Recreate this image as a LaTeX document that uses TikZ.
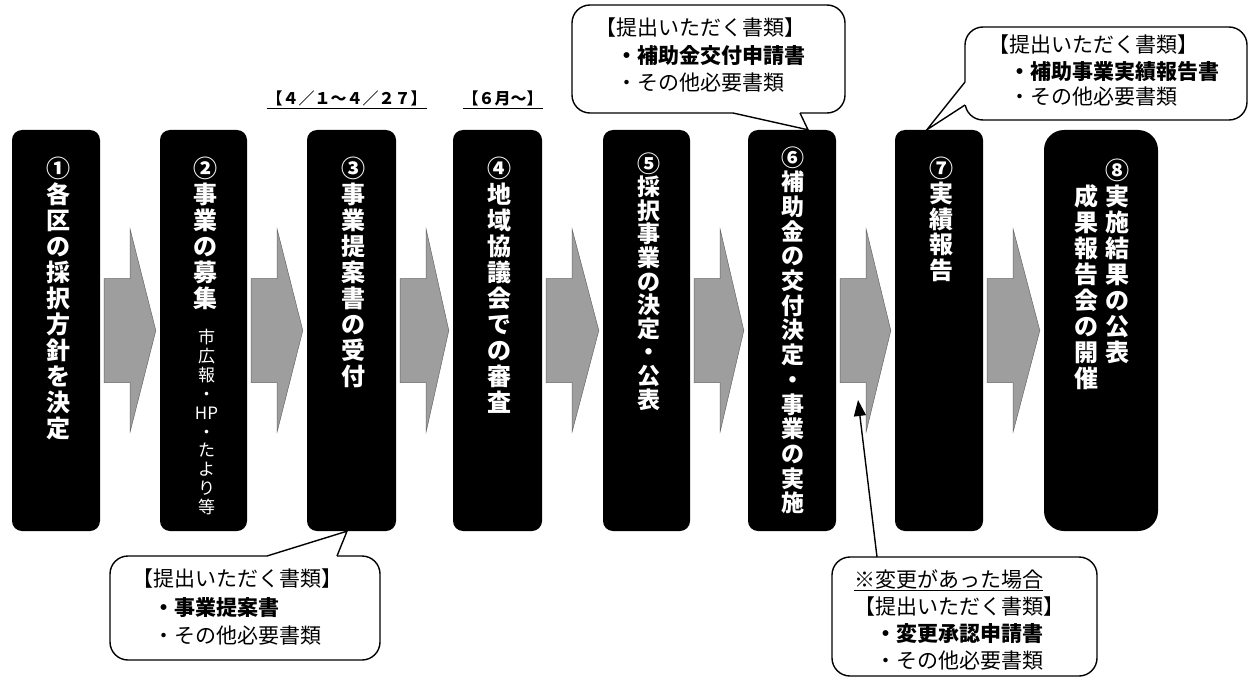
\documentclass[tikz,border=0pt]{standalone}
\usepackage{fontspec}
\setmainfont{Noto Sans CJK JP}
\usetikzlibrary{arrows.meta}
\tikzset{
  stepbox/.style={fill=black, rounded corners=10pt, minimum height=401pt, inner sep=0pt},
  vchar/.style={text=white, inner sep=0pt, anchor=base, font=\fontsize{24pt}{24pt}\selectfont\bfseries},
  vcharb/.style={text=white, inner sep=0pt, anchor=base, font=\fontsize{23pt}{23pt}\selectfont\bfseries},
  vsmall/.style={text=white, inner sep=0pt, anchor=base, font=\fontsize{17pt}{17pt}\selectfont},
  flow/.style={fill=black!38, draw=black!60, line width=0.5pt},
  callout/.style={draw=black, line width=1.4pt, fill=white, rounded corners=18pt},
  wedge/.style={draw=black, line width=1.4pt, line join=miter},
  cline/.style={anchor=base west, inner sep=0pt, font=\fontsize{21pt}{21pt}\selectfont},
  datelabel/.style={font=\fontsize{16pt}{18pt}\selectfont\bfseries, inner sep=0pt, anchor=base},
}
% vertical column of characters: name, x, baseline of first, pitch, style, list
\newcommand{\vcol}[6]{%
  \foreach \ch [count=\i] in {#6} {\node[#5] (#1-\i) at (#2, {#3+(\i-1)*#4}) {\ch};}}
\newcommand{\flowarrow}[2]{%
  \path[flow] ([shift={(4,-52)}]#1.east) -- ([shift={(30,-52)}]#1.east) -- ([shift={(30,-101)}]#1.east)
    -- ([shift={(-4,0)}]#2.west) -- ([shift={(30,101)}]#1.east) -- ([shift={(30,52)}]#1.east)
    -- ([shift={(4,52)}]#1.east) -- cycle;}
\begin{document}
\begin{tikzpicture}[x=1pt,y=-1pt]
\fill[white] (0,0) rectangle (1250,682);
\useasboundingbox (0,0) rectangle (1250,682);

% boxes
\node[stepbox, minimum width=88pt] (b1) at (56,330.5) {};
\node[stepbox, minimum width=87pt] (b2) at (203.5,330.5) {};
\node[stepbox, minimum width=89pt] (b3) at (351.5,330.5) {};
\node[stepbox, minimum width=89pt] (b4) at (497.5,330.5) {};
\node[stepbox, minimum width=87pt] (b5) at (646.5,330.5) {};
\node[stepbox, minimum width=88pt] (b6) at (792,330.5) {};
\node[stepbox, minimum width=88pt] (b7) at (939,330.5) {};
\node[stepbox, minimum width=114pt, rounded corners=20pt] (b8) at (1101,330.5) {};

% texts in boxes (vertical writing)
\vcol{t1}{58.5}{177}{26}{vchar}{①,各,区,の,採,択,方,針,を,決,定}
\vcol{t2}{205.5}{177}{26}{vchar}{②,事,業,の,募,集}
\vcol{t2s}{206.5}{343.5}{18.9}{vsmall}{市,広,報,・,HP,・,た,よ,り,等}
\vcol{t3}{353.5}{177}{26}{vchar}{③,事,業,提,案,書,の,受,付}
\vcol{t4}{499.5}{177}{26}{vchar}{④,地,域,協,議,会,で,の,審,査}
\vcol{t5}{648.5}{172}{23.6}{vcharb}{⑤,採,択,事,業,の,決,定,・,公,表}
\vcol{t6}{793}{166}{24.7}{vcharb}{⑥,補,助,金,の,交,付,決,定,・,事,業,の,実,施}
\vcol{t7}{941}{177}{25.5}{vchar}{⑦,実,績,報,告}
\vcol{t8a}{1117}{179}{26}{vchar}{⑧,実,施,結,果,の,公,表}
\vcol{t8b}{1086}{205}{26}{vchar}{成,果,報,告,会,の,開,催}

% flow arrows
\flowarrow{b1}{b2}
\flowarrow{b2}{b3}
\flowarrow{b3}{b4}
\flowarrow{b4}{b5}
\flowarrow{b5}{b6}
\flowarrow{b6}{b7}
\flowarrow{b7}{b8}

% date labels
\node[datelabel] (d1) at (346.5,105) {\underline{【４／１～４／２７】}};
\node[datelabel] (d2) at (502.5,105) {\underline{【６月～】}};

% callout 1 (above box 6)
\draw[callout] (572,5) rectangle (845,113);
\coordinate (tip1) at ([xshift=16pt]b6.north);
\fill[white] (733,110) -- (733,113) -- (tip1) -- (800,113) -- (800,110) -- cycle;
\draw[wedge] (733,113) -- (tip1) -- (800,113);
\node[cline] (c1a) at (595.5,36) {【提出いただく書類】};
\node[cline] (c1b) at (616.5,64) {\bfseries ・補助金交付申請書};
\node[cline] (c1c) at (616.5,91) {・その他必要書類};

% callout 2 (above box 7)
\draw[callout] (965,27) rectangle (1247,120);
\coordinate (tip2) at ([xshift=32pt]b7.north west);
\fill[white] (968,82) -- (965,82) -- (tip2) -- (965,105) -- (968,105) -- cycle;
\draw[wedge] (965,82) -- (tip2) -- (965,105);
\node[cline] (c2a) at (988.5,53) {【提出いただく書類】};
\node[cline] (c2b) at (1009.5,80) {\bfseries ・補助事業実績報告書};
\node[cline] (c2c) at (1009.5,105) {・その他必要書類};

% callout 3 (below box 3)
\draw[callout] (110,556) rectangle (380,660);
\coordinate (tip3) at ([xshift=-4.5pt]b3.south);
\fill[white] (267,559) -- (267,556) -- (tip3) -- (337,556) -- (337,559) -- cycle;
\draw[wedge] (267,556) -- (tip3) -- (337,556);
\node[cline] (c3a) at (132.5,586) {【提出いただく書類】};
\node[cline] (c3b) at (153.5,615) {\bfseries ・事業提案書};
\node[cline] (c3c) at (153.5,643) {・その他必要書類};

% callout 4 (change)
\draw[callout] (832,557) rectangle (1097,676);
\node[cline] (c4a) at (854,587) {\underline{※変更があった場合}};
\node[cline] (c4b) at (854,614) {【提出いただく書類】};
\node[cline] (c4c) at (875,641) {\bfseries ・変更承認申請書};
\node[cline] (c4d) at (875,668) {・その他必要書類};
\coordinate (c4top) at (877,557);
\coordinate (chg) at (858,400);
\draw[line width=1.4pt, -{Triangle[length=16pt,width=12pt]}] (c4top) -- (chg);
\end{tikzpicture}
\end{document}
